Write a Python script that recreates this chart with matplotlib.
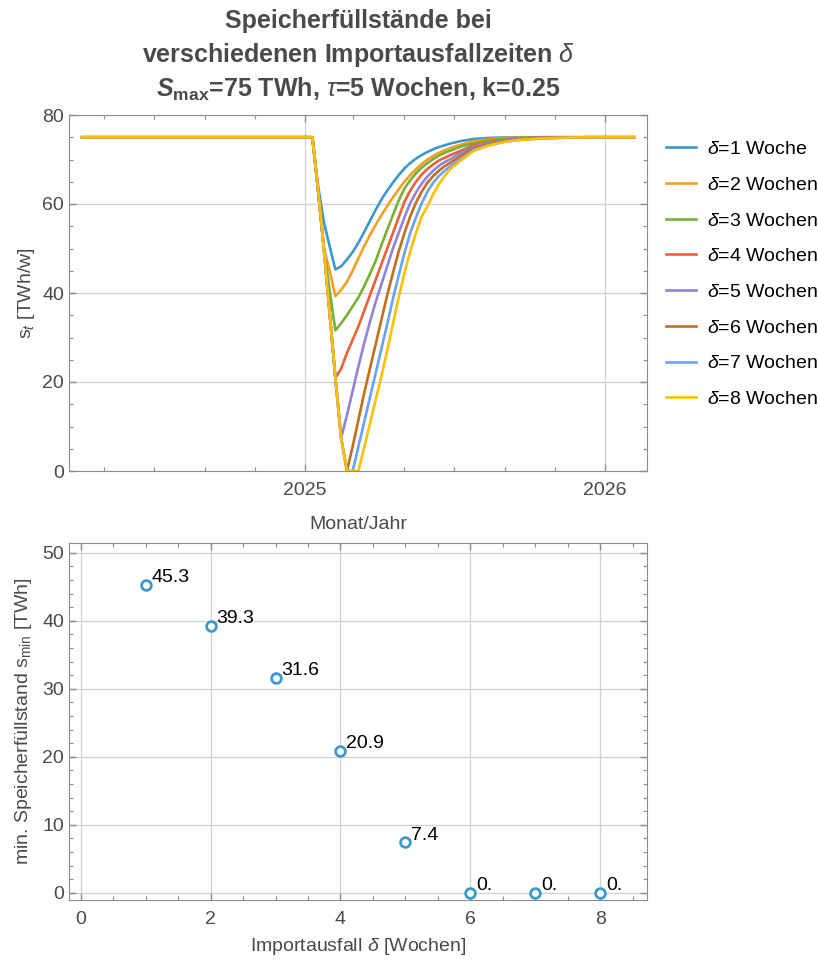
import numpy as np
import matplotlib

matplotlib.use("Agg")
import matplotlib.pyplot as plt
import matplotlib.dates as mdates

plt.rcParams["font.family"] = ["Liberation Sans", "DejaVu Sans"]
plt.rcParams["mathtext.fontset"] = "custom"
plt.rcParams["mathtext.rm"] = "Liberation Sans"
plt.rcParams["mathtext.it"] = "Liberation Sans:italic"
plt.rcParams["mathtext.bf"] = "Liberation Sans:bold"
plt.rcParams["mathtext.bfit"] = "Liberation Sans:bold:italic"

# weekly storage levels, week 0 = start of the drawdown
start_date = np.datetime64("2025-01-10")
weeks = [-40, 0, 1, 2, 3, 4, 5, 6, 7, 8, 9, 10, 11, 12, 13, 14, 15, 16, 17, 18, 19,
         20, 21, 22, 23, 24, 26, 28, 30, 32, 34, 36, 40, 44, 48, 52, 56]

level_d1 = [75, 75, 64, 56, 50.5, 45.3, 46, 47.5, 49.2, 51.3, 53.7, 56.2, 58.7, 61, 63, 64.8,
            66.5, 68, 69.2, 70.2, 71, 71.7, 72.3, 72.8, 73.2, 73.6, 74.2, 74.6, 74.8, 74.9,
            74.95, 75, 75, 75, 75, 75, 75]
level_d2 = [75, 75, 63, 50, 45, 39.3, 40.7, 42.5, 45, 47.8, 50.5, 53, 55.3, 57.5, 59.5, 61.5,
            63.3, 65, 66.5, 67.8, 69, 70, 70.8, 71.5, 72.1, 72.6, 73.4, 74.1, 74.4, 74.7,
            74.85, 74.9, 75, 75, 75, 75, 75]
level_d3 = [75, 75, 63, 50, 40.5, 31.6, 33.2, 35, 37, 39, 41.5, 44.3, 47.2, 50.8, 54.2, 57.5,
            60.8, 63.5, 65.3, 66.9, 68.2, 69.2, 70.1, 70.9, 71.5, 72.0, 73.0, 73.6, 74.2, 74.5,
            74.7, 74.85, 75, 75, 75, 75, 75]
level_d4 = [75, 75, 63, 50, 35.5, 20.9, 23, 26.5, 29.5, 32.5, 36, 39.5, 43, 46.5, 50, 53.5,
            57, 60.5, 63, 65, 66.6, 67.9, 68.9, 69.8, 70.4, 71.0, 72.1, 73.2, 73.7, 74.2,
            74.5, 74.7, 74.9, 75, 75, 75, 75]
level_d5 = [75, 75, 63, 50, 35.5, 20.9, 7.4, 12.5, 18, 23.5, 28.7, 33.5, 38, 42, 46, 50,
            53.5, 57, 60.2, 62.6, 64.6, 66.2, 67.5, 68.6, 69.4, 70.1, 71.7, 72.8, 73.5, 74,
            74.4, 74.6, 74.85, 74.95, 75, 75, 75]
level_d6 = [75, 75, 63, 50, 35.5, 20.9, 7.4, 0, 5.5, 11.5, 17.5, 23, 28.5, 34, 39.5, 44.5,
            49.3, 53.5, 57.2, 60.3, 62.8, 64.8, 66.3, 67.5, 68.5, 69.3, 71.0, 72.5, 73.2, 73.8,
            74.2, 74.5, 74.8, 74.95, 75, 75, 75]
level_d7 = [75, 75, 63, 50, 35.5, 20.9, 7.4, 0, 0, 5.5, 11, 16.5, 22, 27.5, 33, 38.7,
            44, 49, 53.5, 57, 60.2, 62.8, 64.8, 66.3, 67.5, 68.5, 70.3, 72.2, 73.0, 73.6,
            74.1, 74.4, 74.75, 74.9, 75, 75, 75]
level_d8 = [75, 75, 63, 50, 35.5, 20.9, 7.4, 0, 0, 0, 5.3, 10.6, 16, 21.3, 27, 33,
            39, 44.5, 49.3, 53.5, 57.2, 59.5, 62.2, 64.5, 66.3, 67.9, 70.0, 71.9, 72.9, 73.6,
            74.1, 74.4, 74.75, 74.9, 75, 75, 75]

series_labels = ["1 Woche", "2 Wochen", "3 Wochen", "4 Wochen",
                 "5 Wochen", "6 Wochen", "7 Wochen", "8 Wochen"]

# minimum storage level per outage length
outage_weeks = [1, 2, 3, 4, 5, 6, 7, 8]
min_level = [45.3, 39.3, 31.6, 20.9, 7.4, 0, 0, 0]
min_labels = ["45.3", "39.3", "31.6", "20.9", "7.4", "0.", "0.", "0."]

colors = ["#3d99cc", "#f2a024", "#74b336", "#eb6235",
          "#9382d9", "#c56e1a", "#66a3ff", "#ffbf00"]
frame_col = "#8c8c8c"
text_col = "#4a4a4a"

fig = plt.figure(figsize=(8.18, 9.6), dpi=100)
ax1 = fig.add_axes([69 / 818, 1 - 471 / 960, 578 / 818, 356 / 960])
ax2 = fig.add_axes([69 / 818, 1 - 900 / 960, 578 / 818, 357.3 / 960])

dates = start_date + np.array(weeks) * np.timedelta64(7, "D")
all_levels = [level_d1, level_d2, level_d3, level_d4,
              level_d5, level_d6, level_d7, level_d8]
for levels, col, lab in zip(all_levels, colors, series_labels):
    ax1.plot(dates, levels, color=col, lw=1.9,
             label=r"$\mathit{\delta}$=" + lab, solid_joinstyle="round")

ax1.set_xlim(np.datetime64("2024-03-20"), np.datetime64("2026-02-21"))
ax1.set_ylim(0, 80)
ax1.xaxis.set_major_locator(mdates.YearLocator())
ax1.xaxis.set_major_formatter(mdates.DateFormatter("%Y"))
ax1.xaxis.set_minor_locator(mdates.MonthLocator(bymonth=[1, 3, 5, 7, 9, 11]))
ax1.set_yticks([0, 20, 40, 60, 80])
ax1.set_yticks(np.arange(0, 81, 5), minor=True)
ax1.set_xlabel("Monat/Jahr", fontsize=14, color=text_col, labelpad=12)
ax1.set_ylabel(r"$\mathrm{s}_{\mathit{t}}$ [TWh/w]", fontsize=14, color=text_col, labelpad=4)
ax1.set_title("Speicherfüllstände bei\n"
              r"verschiedenen Importausfallzeiten $\mathit{\delta}$" "\n"
              r"$\mathbfit{S}_{\mathbf{max}}$=75 TWh, $\mathit{\tau}$=5 Wochen, k=0.25",
              fontsize=18, fontweight="bold", color=text_col, linespacing=1.35, pad=13)
ax1.legend(loc="upper left", bbox_to_anchor=(1.019, 0.95), frameon=False,
           fontsize=14, handlelength=1.55, labelspacing=0.93, handletextpad=0.55,
           borderaxespad=0)

ax2.plot(outage_weeks, min_level, "o", ms=7, mfc="white", mec=colors[0], mew=2)
for xv, yv, lab in zip(outage_weeks, min_level, min_labels):
    ax2.annotate(lab, (xv, yv), xytext=(4, 2), textcoords="offset points",
                 fontsize=14, color="black", ha="left", va="baseline")
ax2.set_xlim(-0.18, 8.72)
ax2.set_ylim(-1.07, 51.5)
ax2.set_xticks([0, 2, 4, 6, 8])
ax2.set_xticks(np.arange(0, 8.6, 0.5), minor=True)
ax2.set_yticks([0, 10, 20, 30, 40, 50])
ax2.set_yticks(np.arange(0, 51, 2), minor=True)
ax2.set_xlabel(r"Importausfall $\mathit{\delta}$ [Wochen]", fontsize=14, color=text_col, labelpad=6)
ax2.set_ylabel(r"min. Speicherfüllstand $\mathrm{s}_{\mathrm{min}}$ [TWh]",
               fontsize=14, color=text_col, labelpad=6)

for ax in (ax1, ax2):
    ax.grid(True, which="major", color="#d0d0d0", lw=0.9)
    ax.set_axisbelow(True)
    ax.tick_params(which="both", direction="in", top=True, right=True,
                   colors=frame_col, labelcolor=text_col, labelsize=14)
    ax.tick_params(which="major", length=5, width=1)
    ax.tick_params(which="minor", length=3, width=0.8)
    ax.tick_params(axis="x", which="major", pad=8)
    for sp in ax.spines.values():
        sp.set_color(frame_col)

fig.savefig("out.png", dpi=100)
